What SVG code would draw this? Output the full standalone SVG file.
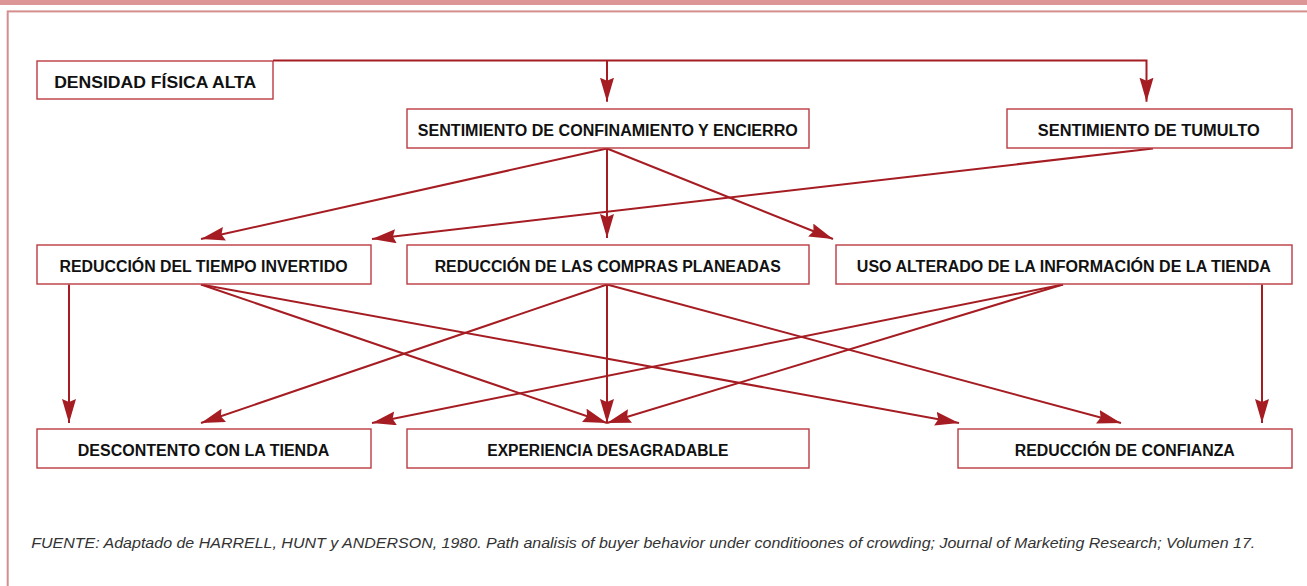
<svg xmlns="http://www.w3.org/2000/svg" width="1307" height="586" viewBox="0 0 1307 586">
<style>
.box{fill:#fff;stroke:#bb3b40;stroke-width:1.4}
.lbl{font-family:"Liberation Sans",Arial,sans-serif;font-weight:bold;font-size:16px;fill:#111;text-anchor:middle}
.con{fill:none;stroke:#a51d23;stroke-width:2}
.src{font-family:"Liberation Sans",Arial,sans-serif;font-style:italic;font-size:15px;fill:#333}
</style>
<defs>
<marker id="ah" markerUnits="userSpaceOnUse" markerWidth="26" markerHeight="16" refX="24" refY="7" orient="auto">
<path d="M0,0 L24,7 L0,14 L3,7 z" fill="#a51d23"/>
</marker>
</defs>
<rect x="0" y="0" width="1307" height="586" fill="#fff"/>
<rect x="0" y="0" width="1307" height="5" fill="#dc9696"/>
<rect x="7.7" y="11.4" width="1320" height="600" fill="none" stroke="#d48e8e" stroke-width="2"/>
<g id="connectors">
<path class="con" d="M273,60.5 H1146.5 V101.7" marker-end="url(#ah)"/>
<path class="con" d="M607,60.5 V101.7" marker-end="url(#ah)"/>
<path class="con" d="M1153,148.5 L372,239" marker-end="url(#ah)"/>
<path class="con" d="M607,148.5 L201,239" marker-end="url(#ah)"/>
<path class="con" d="M607,148.5 V238" marker-end="url(#ah)"/>
<path class="con" d="M607,148.5 L833,239" marker-end="url(#ah)"/>
<path class="con" d="M69,284.5 V423" marker-end="url(#ah)"/>
<path class="con" d="M607,284.5 L201,423" marker-end="url(#ah)"/>
<path class="con" d="M1063,284.5 L372,423" marker-end="url(#ah)"/>
<path class="con" d="M201,284.5 L607,423" marker-end="url(#ah)"/>
<path class="con" d="M607,284.5 V423" marker-end="url(#ah)"/>
<path class="con" d="M1063,284.5 L607,423" marker-end="url(#ah)"/>
<path class="con" d="M201,284.5 L959,423" marker-end="url(#ah)"/>
<path class="con" d="M607,284.5 L1121,423" marker-end="url(#ah)"/>
<path class="con" d="M1262,284.5 V423" marker-end="url(#ah)"/>
</g>
<g id="densidad">
<rect class="box" x="37" y="61" width="236" height="38"/>
<text class="lbl" x="155.2" y="88" textLength="202" lengthAdjust="spacingAndGlyphs">DENSIDAD FÍSICA ALTA</text>
</g>
<g id="confinamiento">
<rect class="box" x="407" y="109" width="402" height="39"/>
<text class="lbl" x="607.8" y="136" textLength="380" lengthAdjust="spacingAndGlyphs">SENTIMIENTO DE CONFINAMIENTO Y ENCIERRO</text>
</g>
<g id="tumulto">
<rect class="box" x="1007" y="109" width="285" height="39"/>
<text class="lbl" x="1148.8" y="136" textLength="222" lengthAdjust="spacingAndGlyphs">SENTIMIENTO DE TUMULTO</text>
</g>
<g id="tiempo">
<rect class="box" x="37" y="245" width="334" height="39"/>
<text class="lbl" x="203.5" y="272" textLength="288" lengthAdjust="spacingAndGlyphs">REDUCCIÓN DEL TIEMPO INVERTIDO</text>
</g>
<g id="compras">
<rect class="box" x="407" y="245" width="402" height="39"/>
<text class="lbl" x="607.7" y="272" textLength="346" lengthAdjust="spacingAndGlyphs">REDUCCIÓN DE LAS COMPRAS PLANEADAS</text>
</g>
<g id="informacion">
<rect class="box" x="836" y="245" width="456" height="39"/>
<text class="lbl" x="1063.8" y="272" textLength="414" lengthAdjust="spacingAndGlyphs">USO ALTERADO DE LA INFORMACIÓN DE LA TIENDA</text>
</g>
<g id="descontento">
<rect class="box" x="37" y="429" width="334" height="39"/>
<text class="lbl" x="203.5" y="456" textLength="251.5" lengthAdjust="spacingAndGlyphs">DESCONTENTO CON LA TIENDA</text>
</g>
<g id="experiencia">
<rect class="box" x="407" y="429" width="402" height="39"/>
<text class="lbl" x="607.8" y="456" textLength="241" lengthAdjust="spacingAndGlyphs">EXPERIENCIA DESAGRADABLE</text>
</g>
<g id="confianza">
<rect class="box" x="958" y="429" width="334" height="39"/>
<text class="lbl" x="1124.8" y="456" textLength="220" lengthAdjust="spacingAndGlyphs">REDUCCIÓN DE CONFIANZA</text>
</g>
<text class="src" x="31.3" y="547.5" textLength="1224" lengthAdjust="spacingAndGlyphs">FUENTE: Adaptado de HARRELL, HUNT y ANDERSON, 1980. Path analisis of buyer behavior under conditioones of crowding; Journal of Marketing Research; Volumen 17.</text>
</svg>
